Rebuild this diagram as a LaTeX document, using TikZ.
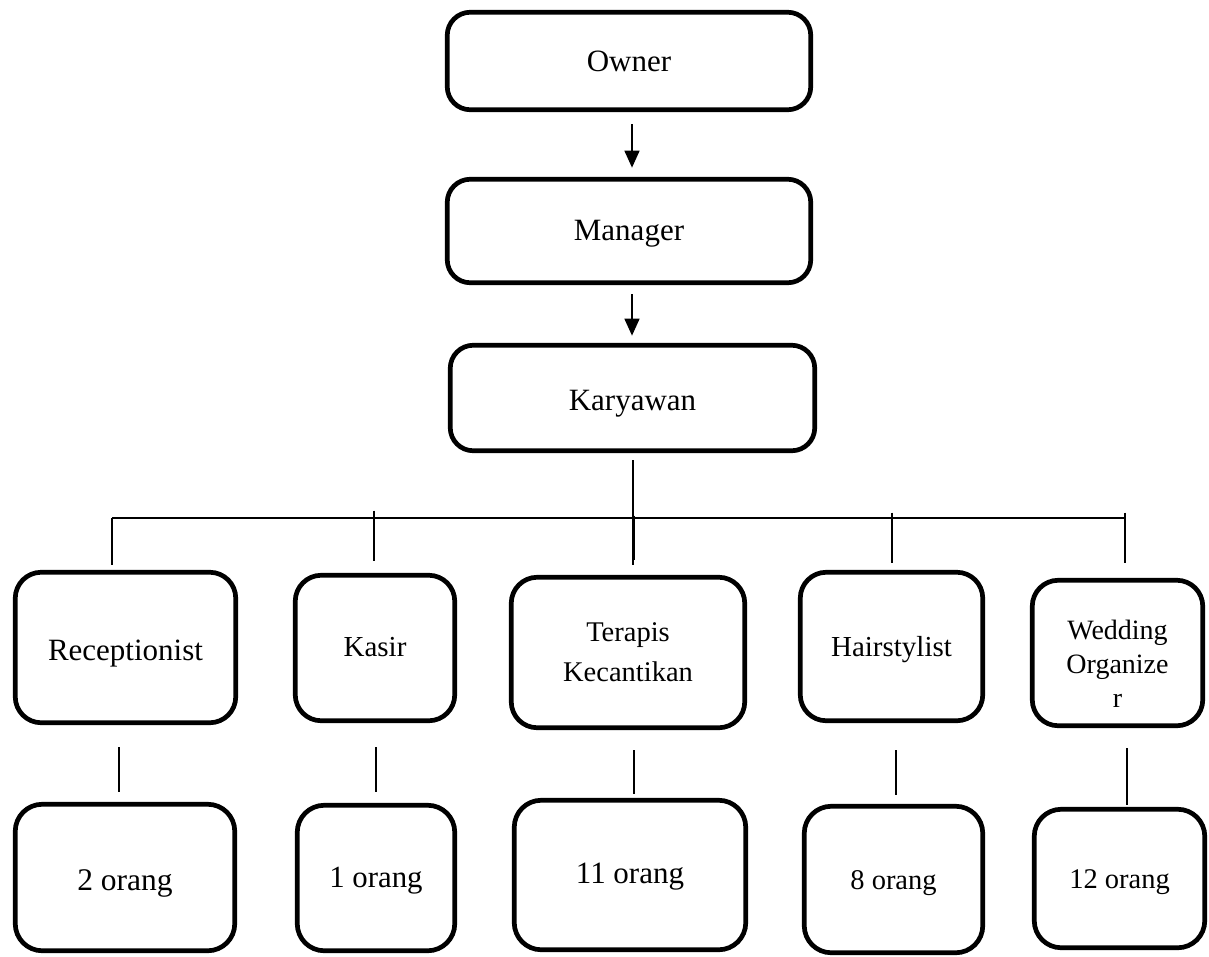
\documentclass[tikz,border=0pt]{standalone}
\usepackage{fontspec}
\setmainfont{Liberation Serif}
\usetikzlibrary{arrows.meta}
\newcommand\lowtext[2]{\raisebox{-#1pt}[0pt][0pt]{#2}}
\tikzset{
  topbox/.style={draw, line width=4.7pt, rounded corners=23pt, inner sep=0pt,
    font=\fontsize{31}{37}\selectfont},
  midbox/.style={draw, line width=4.7pt, rounded corners=26pt, inner sep=0pt},
  botbox/.style={draw, line width=4.7pt, rounded corners=27pt, inner sep=0pt},
  conn/.style={line width=1.6pt},
  arr/.style={line width=1.6pt, -{Triangle[width=15pt,length=17pt]}}
}
\begin{document}
\begin{tikzpicture}[x=1pt,y=-1pt]
\useasboundingbox (0,0) rectangle (1209,956);
\fill[white] (0,0) rectangle (1209,956);
% top chain
\node[topbox, minimum width=363.5pt, minimum height=97.5pt] (owner) at (629,61) {\lowtext{10}{Owner}};
\node[topbox, minimum width=363.5pt, minimum height=103.5pt] (manager) at (629,231) {\lowtext{9.7}{Manager}};
\node[topbox, minimum width=364.5pt, minimum height=105.5pt] (karyawan) at (632.5,398) {\lowtext{12}{Karyawan}};
% middle row
\node[midbox, minimum width=220.5pt, minimum height=150.5pt, font=\fontsize{31}{37}\selectfont] (rec) at (125.5,647.5) {\lowtext{12.5}{Receptionist}};
\node[midbox, minimum width=159.5pt, minimum height=145.5pt, font=\fontsize{29}{35}\selectfont] (kas) at (375,648) {\lowtext{8}{Kasir}};
\node[midbox, align=center, minimum width=233.5pt, minimum height=150.5pt, font=\fontsize{28.5}{40}\selectfont] (ter) at (628,652.5) {Terapis\\Kecantikan};
\node[midbox, minimum width=182.5pt, minimum height=148.5pt, font=\fontsize{29}{35}\selectfont] (hai) at (891.5,646.5) {\lowtext{10.2}{Hairstylist}};
\node[midbox, align=center, minimum width=170.5pt, minimum height=145.5pt, font=\fontsize{28}{34}\selectfont] (wed) at (1117.5,653) {\rule{0pt}{40pt}Wedding\\Organize\\r};
% bottom row
\node[botbox, minimum width=219.5pt, minimum height=146.5pt, font=\fontsize{31.5}{37}\selectfont] (b1) at (125,877.5) {\lowtext{12.5}{2 orang}};
\node[botbox, minimum width=157.5pt, minimum height=145.5pt, font=\fontsize{30.8}{37}\selectfont] (b2) at (376,878) {\lowtext{9}{1 orang}};
\node[botbox, minimum width=231.5pt, minimum height=149.5pt, font=\fontsize{31}{37}\selectfont] (b3) at (630,875) {\lowtext{8}{11 orang}};
\node[botbox, minimum width=178.5pt, minimum height=146.5pt, font=\fontsize{28.5}{34}\selectfont] (b4) at (893.5,879.5) {\lowtext{9.5}{8 orang}};
\node[botbox, minimum width=170.5pt, minimum height=138.5pt, font=\fontsize{28.5}{34}\selectfont] (b5) at (1119.5,878.5) {\lowtext{9.5}{12 orang}};
% arrows
\draw[arr] ([xshift=3pt,yshift=-12.25pt]owner.south) -- ([xshift=3pt,yshift=9.25pt]manager.north);
\draw[arr] ([xshift=3pt,yshift=-9.25pt]manager.south) -- ([xshift=-0.5pt,yshift=7.25pt]karyawan.north);
% stem and bus
\draw[conn] ([xshift=0.5pt,yshift=-7.25pt]karyawan.south) -- ([xshift=0.5pt,yshift=-112.25pt]karyawan.south);
\coordinate (busL) at (112,518);
\coordinate (busR) at (1125,518);
\draw[conn] (busL) -- (busR);
% drops
\draw[conn] (busL) -- ([xshift=-13.5pt,yshift=5.25pt]rec.north);
\draw[conn] ([xshift=-1pt,yshift=62.25pt]kas.north) -- ([xshift=-1pt,yshift=12.25pt]kas.north);
\draw[conn] ([xshift=6pt,yshift=59.25pt]ter.north) -- ([xshift=6pt,yshift=15.25pt]ter.north);
\draw[conn] ([xshift=0.5pt,yshift=57.25pt]hai.north) -- ([xshift=0.5pt,yshift=7.25pt]hai.north);
\draw[conn] ([xshift=7.5pt,yshift=65.25pt]wed.north) -- ([xshift=7.5pt,yshift=15.25pt]wed.north);
% middle to bottom
\draw[conn] ([xshift=-6.5pt,yshift=-22pt]rec.south) -- ([xshift=-6pt,yshift=10pt]b1.north);
\draw[conn] ([xshift=1pt,yshift=-24pt]kas.south) -- ([yshift=11pt]b2.north);
\draw[conn] ([xshift=6pt,yshift=-20pt]ter.south) -- ([xshift=4pt,yshift=4pt]b3.north);
\draw[conn] ([xshift=4.5pt,yshift=-27pt]hai.south) -- ([xshift=2.5pt,yshift=9pt]b4.north);
\draw[conn] ([xshift=9.5pt,yshift=-20pt]wed.south) -- ([xshift=7.5pt,yshift=2pt]b5.north);
\end{tikzpicture}
\end{document}
